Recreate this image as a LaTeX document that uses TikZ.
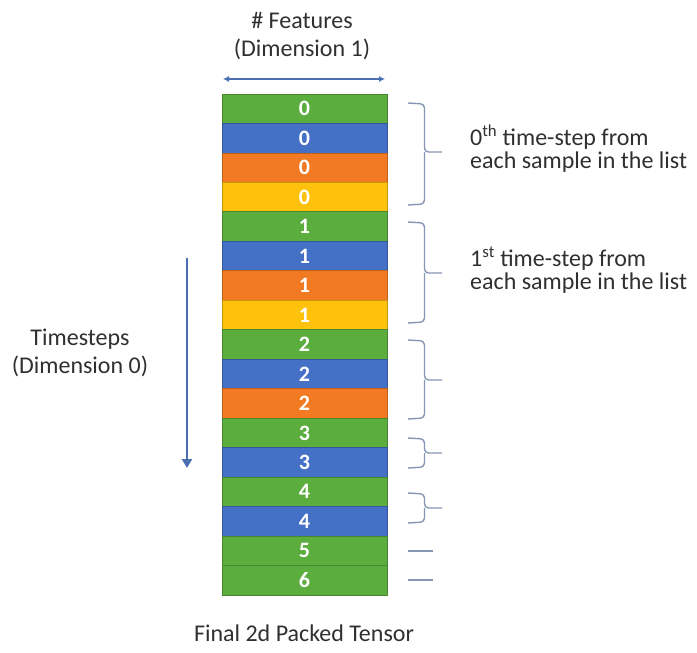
\documentclass[tikz,border=0pt]{standalone}
\usepackage{fontspec}
\setmainfont{Carlito}
\usetikzlibrary{arrows.meta,calc}
\definecolor{cG}{HTML}{5BAD3E}
\definecolor{cB}{HTML}{4470C6}
\definecolor{cO}{HTML}{F27A22}
\definecolor{cY}{HTML}{FEC20C}
\definecolor{arr}{HTML}{4A6FB3}
\definecolor{brc}{HTML}{8896B5}
\definecolor{txt}{HTML}{303030}
\begin{document}
\begin{tikzpicture}[x=1pt,y=-1pt,
  cell/.style={minimum width=165pt, minimum height=29.47pt, inner sep=0pt, outer sep=0pt,
    font=\fontsize{22}{22}\selectfont\bfseries, text=white, line width=0.8pt},
  lbl/.style={text=txt, inner sep=0pt, font=\fontsize{24}{23}\selectfont, align=left, anchor=west},
  clbl/.style={text=txt, inner sep=0pt, font=\fontsize{24}{28.5}\selectfont, align=center},
  bracepath/.style={draw=brc, line width=1.4pt, rounded corners=4pt},
  arrowline/.style={draw=arr}]
\useasboundingbox (0,0) rectangle (697,653);
\fill[white] (0,0) rectangle (697,653);
% tensor rows
\foreach \c/\d [count=\i from 0] in {G/0,B/0,O/0,Y/0,G/1,B/1,O/1,Y/1,G/2,B/2,O/2,G/3,B/3,G/4,B/4,G/5,G/6}{
  \node[cell, fill=c\c, draw=c\c!78!black] (r\i) at (304.5, 94+29.47*\i+14.735) {\d};
}
% titles
\node[clbl] (feat) at (302,36) {\# Features\\(Dimension 1)};
\node[clbl] (ts) at (80,353) {Timesteps\\(Dimension 0)};
\node[clbl] (final) at (304,633) {Final 2d Packed Tensor};
% top double arrow
\coordinate (fa) at (223,79);
\coordinate (fb) at (385,79);
\draw[arrowline, line width=1.5pt, {Latex[length=6pt,width=6pt]}-{Latex[length=6pt,width=6pt]}] (fa) -- (fb);
% left arrow
\coordinate (ta) at (187,258);
\coordinate (tb) at (187,468);
\draw[arrowline, line width=2.8pt, -{Triangle[length=9pt,width=10pt]}] (ta) -- (tb);
% braces
\newcommand\grpbrace[3]{%
  \draw[bracepath] (408,#1) -- (424.5,#1+1) -- (424.5,#3) -- (442,#3);
  \draw[bracepath] (424.5,#3) -- (424.5,#2-1) -- (408,#2);}
\grpbrace{103}{205}{152}
\grpbrace{222}{323}{273}
\grpbrace{340}{419}{380}
\grpbrace{438}{468}{453}
\grpbrace{493}{523}{508}
\draw[bracepath] (408,551) -- (433,551);
\draw[bracepath] (408,580) -- (433,580);
% labels
\node[lbl] (lab0) at (470,149) {0\textsuperscript{th} time-step from\\each sample in the list};
\node[lbl] (lab1) at (470,270) {1\textsuperscript{st} time-step from\\each sample in the list};
\end{tikzpicture}
\end{document}
